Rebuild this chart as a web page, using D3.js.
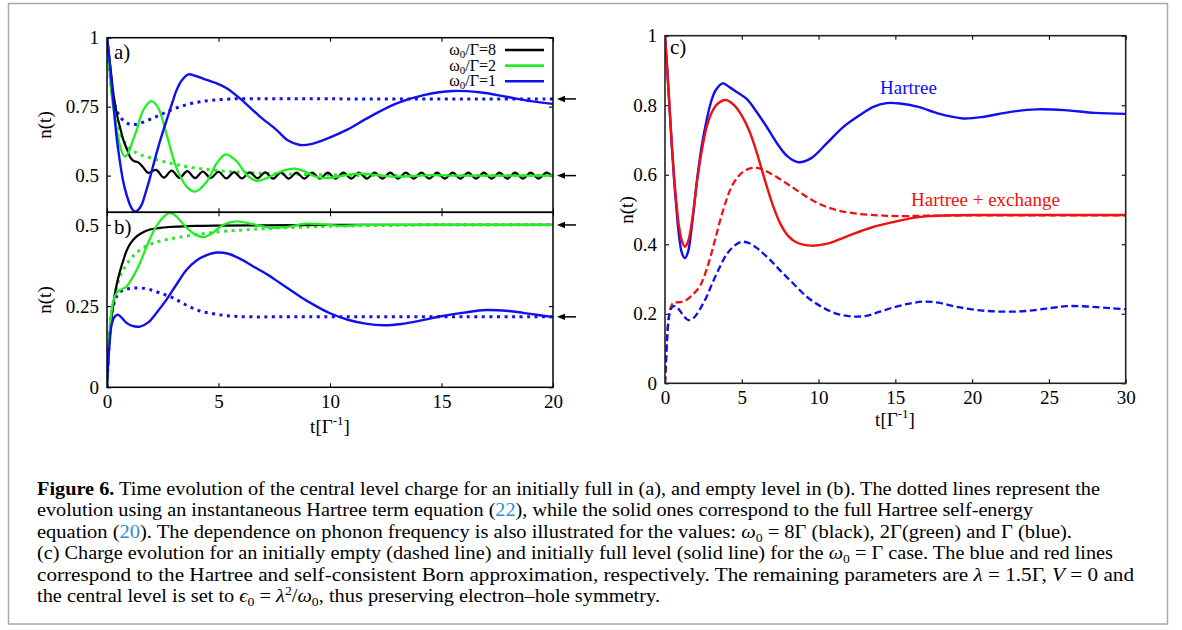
<!DOCTYPE html>
<html><head><meta charset="utf-8">
<script src="https://cdn.jsdelivr.net/npm/d3@7"></script>
<style>
body{margin:0;background:#fff;}
svg text{font-family:"Liberation Serif","Times New Roman",serif;}
</style></head><body>
<svg id="c" width="1182" height="630"></svg>
<script>
// ---------------- DATA ----------------
const abTicksX = [0,5,10,15,20];
const aTicksY = [0.5,0.75,1];
const aTickLabels = ["0.5","0.75","1"];
const bTicksY = [0,0.25,0.5];
const bTickLabels = ["0","0.25","0.5"];
const cTicksX = [0,5,10,15,20,25,30];
const cTicksY = [0,0.2,0.4,0.6,0.8,1];
const cTickLabels = ["0","0.2","0.4","0.6","0.8","1"];
const legendLabels = ["8","2","1"];
const arrowA = [0.778,0.5];
const arrowB = [0.5,0.217];

// panel a (initially full), [t, n]
const a_black = [[0,1],[0.1,0.93],[0.2,0.86],[0.3,0.79],[0.45,0.72],[0.6,0.67],[0.75,0.625],[0.9,0.595],[1.05,0.565],[1.2,0.553],[1.4,0.548],[1.6,0.532],
 [1.85,0.51],[2.2,0.521],[2.55,0.493],[2.9,0.518],[3.25,0.492],[3.6,0.516],[3.95,0.491],[4.3,0.515],[4.65,0.491],[5.0,0.514],[5.35,0.49],[5.7,0.513],
 [6.05,0.49],[6.4,0.512],[6.75,0.49],[7.1,0.512],[7.45,0.489],[7.8,0.512],[8.15,0.489],[8.5,0.511],[8.85,0.489],[9.2,0.511],[9.55,0.489],[9.9,0.511],
 [10.25,0.489],[10.6,0.511],[10.95,0.489],[11.3,0.511],[11.65,0.489],[12.0,0.511],[12.35,0.489],[12.7,0.511],[13.05,0.489],[13.4,0.511],[13.75,0.489],
 [14.1,0.511],[14.45,0.489],[14.8,0.511],[15.15,0.489],[15.5,0.511],[15.85,0.489],[16.2,0.511],[16.55,0.489],[16.9,0.511],[17.25,0.489],[17.6,0.511],
 [17.95,0.489],[18.3,0.511],[18.65,0.489],[19.0,0.511],[19.35,0.489],[19.7,0.511],[20.0,0.495]];
const a_green = [[0,1],[0.1,0.9],[0.2,0.8],[0.35,0.71],[0.5,0.64],[0.65,0.59],[0.81,0.569],[1.0,0.59],[1.15,0.625],[1.33,0.665],[1.63,0.738],[2.0,0.77],
 [2.3,0.745],[2.68,0.647],[3.12,0.527],[3.57,0.46],[3.95,0.442],[4.47,0.478],[4.92,0.545],[5.33,0.577],[5.8,0.553],[6.3,0.5],[6.71,0.481],[7.2,0.492],
 [7.8,0.515],[8.4,0.525],[8.9,0.514],[9.4,0.495],[9.9,0.491],[10.6,0.5],[11.4,0.507],[12.2,0.501],[13.0,0.496],[13.8,0.499],[14.6,0.502],[15.5,0.5],[17,0.5],[18.5,0.5],[20,0.5]];
const a_greenDot = [[0,1],[0.15,0.87],[0.3,0.77],[0.45,0.7],[0.6,0.655],[0.8,0.62],[1.0,0.6],[1.2,0.588],[1.5,0.576],[2.0,0.563],[2.5,0.552],[3.0,0.542],
 [3.6,0.532],[4.5,0.522],[5.6,0.514],[6.5,0.51],[7.9,0.506],[9.5,0.503],[11,0.501],[13,0.5],[16,0.5],[20,0.5]];
const a_blue = [[0,1],[0.1,0.93],[0.2,0.84],[0.3,0.75],[0.43,0.64],[0.58,0.55],[0.73,0.478],[0.88,0.43],[1.03,0.394],[1.15,0.376],[1.26,0.37],[1.4,0.376],
 [1.55,0.394],[1.72,0.435],[1.92,0.49],[2.15,0.56],[2.37,0.623],[2.55,0.67],[2.75,0.72],[2.95,0.77],[3.12,0.81],[3.35,0.845],[3.65,0.867],[3.95,0.862],
 [4.47,0.847],[5.0,0.832],[5.37,0.817],[5.96,0.78],[6.86,0.714],[7.6,0.666],[8.1,0.628],[8.65,0.611],[9.2,0.615],[9.9,0.635],[10.75,0.666],[11.8,0.714],
 [12.99,0.762],[14.2,0.792],[15.5,0.807],[16.7,0.802],[17.9,0.786],[19,0.77],[20,0.76]];
const a_blueDot = [[0,1],[0.1,0.9],[0.2,0.82],[0.3,0.77],[0.45,0.733],[0.6,0.712],[0.8,0.695],[1.0,0.687],[1.2,0.685],[1.5,0.69],[1.9,0.703],[2.3,0.717],
 [2.7,0.732],[3.2,0.748],[3.7,0.76],[4.2,0.768],[4.8,0.774],[5.6,0.778],[6.5,0.779],[7.5,0.779],[9,0.779],[11,0.778],[14,0.778],[17,0.778],[20,0.778]];

// panel b (initially empty)
const b_black = [[0,0],[0.05,0.08],[0.1,0.14],[0.18,0.2],[0.28,0.254],[0.4,0.305],[0.58,0.357],[0.75,0.395],[0.87,0.419],[1.05,0.443],[1.33,0.465],
 [1.6,0.477],[1.92,0.486],[2.3,0.49],[2.67,0.493],[3.2,0.495],[4,0.497],[5,0.498],[7,0.499],[10,0.5],[14,0.5],[20,0.5]];
const b_green = [[0,0],[0.05,0.09],[0.12,0.17],[0.2,0.23],[0.3,0.27],[0.43,0.29],[0.6,0.3],[0.87,0.31],[1.17,0.341],[1.48,0.383],[1.78,0.434],[2.08,0.48],
 [2.3,0.505],[2.53,0.524],[2.8,0.537],[3.05,0.53],[3.3,0.512],[3.6,0.49],[3.95,0.471],[4.32,0.463],[4.7,0.474],[5.2,0.5],[5.8,0.511],[6.5,0.503],
 [7.3,0.492],[8.1,0.494],[8.9,0.504],[9.7,0.502],[10.5,0.497],[11.5,0.5],[13,0.5],[15,0.5],[20,0.5]];
const b_greenDot = [[0,0],[0.05,0.09],[0.12,0.17],[0.2,0.225],[0.3,0.265],[0.43,0.305],[0.58,0.341],[0.8,0.37],[1.03,0.393],[1.3,0.413],[1.63,0.43],
 [2.1,0.445],[2.67,0.455],[3.3,0.463],[4.17,0.472],[5.2,0.48],[6.4,0.486],[7.5,0.49],[8.65,0.493],[10,0.496],[12,0.498],[15,0.5],[20,0.5]];
const b_blue = [[0,0],[0.05,0.07],[0.12,0.14],[0.2,0.19],[0.3,0.213],[0.42,0.222],[0.51,0.223],[0.65,0.215],[0.85,0.2],[1.1,0.19],[1.48,0.187],[1.85,0.2],
 [2.25,0.232],[2.67,0.27],[3.1,0.315],[3.57,0.362],[4.0,0.39],[4.5,0.408],[4.92,0.415],[5.4,0.412],[6.0,0.395],[6.56,0.372],[7.2,0.347],[7.76,0.321],
 [8.65,0.28],[9.3,0.253],[10,0.228],[10.8,0.208],[11.6,0.196],[12.39,0.191],[13.2,0.195],[14.1,0.206],[14.93,0.218],[16,0.23],[17,0.238],[18,0.235],
 [19,0.226],[20,0.216]];
const b_blueDot = [[0,0],[0.05,0.08],[0.12,0.16],[0.2,0.22],[0.3,0.255],[0.43,0.28],[0.6,0.294],[0.85,0.302],[1.1,0.305],[1.48,0.306],[1.9,0.301],
 [2.4,0.29],[2.97,0.275],[3.5,0.255],[4.17,0.235],[4.9,0.225],[5.66,0.219],[6.5,0.217],[7.5,0.217],[9,0.217],[12,0.217],[16,0.217],[20,0.217]];

// panel c (omega0 = Gamma)
const c_blueSolid = [[0,1],[0.15,0.9],[0.3,0.79],[0.45,0.68],[0.6,0.58],[0.75,0.5],[0.9,0.43],[1.1,0.375],[1.3,0.36],[1.5,0.378],[1.7,0.435],[1.9,0.51],
 [2.1,0.59],[2.4,0.685],[2.71,0.757],[3.0,0.81],[3.3,0.843],[3.75,0.863],[4.2,0.852],[4.7,0.837],[5.32,0.818],[5.9,0.785],[6.62,0.738],[7.3,0.69],
 [8.0,0.652],[8.68,0.636],[9.5,0.647],[10.53,0.69],[11.6,0.737],[12.7,0.772],[13.6,0.796],[14.43,0.806],[15.3,0.805],[16.5,0.795],[17.8,0.776],
 [19.4,0.762],[20.8,0.767],[22.5,0.781],[24.2,0.788],[26,0.786],[28,0.778],[30,0.775]];
const c_redSolid = [[0,1],[0.15,0.9],[0.3,0.79],[0.45,0.68],[0.6,0.59],[0.75,0.515],[0.9,0.455],[1.1,0.41],[1.3,0.393],[1.5,0.408],[1.7,0.45],[1.9,0.515],
 [2.1,0.585],[2.4,0.67],[2.7,0.735],[3.0,0.775],[3.4,0.803],[3.97,0.815],[4.5,0.8],[5.0,0.77],[5.5,0.725],[6.0,0.66],[6.5,0.585],[7.0,0.515],
 [7.5,0.46],[8.0,0.425],[8.58,0.405],[9.55,0.396],[10.5,0.401],[11.3,0.413],[12.26,0.43],[13.5,0.449],[14.87,0.464],[16.17,0.476],[17.2,0.481],[18.3,0.483],
 [20,0.484],[22,0.484],[25,0.484],[30,0.484]];
const c_redDash = [[0,0],[0.08,0.08],[0.15,0.14],[0.25,0.19],[0.35,0.215],[0.54,0.232],[0.8,0.233],[1.1,0.234],[1.41,0.24],[1.8,0.255],[2.28,0.28],
 [2.8,0.34],[3.3,0.42],[3.8,0.5],[4.45,0.575],[5.2,0.612],[5.97,0.62],[6.9,0.603],[7.92,0.575],[9.0,0.543],[10.1,0.515],[11.3,0.497],[12.7,0.487],
 [14,0.483],[15.1,0.481],[17,0.482],[20,0.483],[25,0.483],[30,0.483]];
const c_blueDash = [[0,0],[0.08,0.08],[0.15,0.14],[0.25,0.19],[0.4,0.215],[0.55,0.222],[0.76,0.22],[1.0,0.207],[1.25,0.192],[1.52,0.182],[1.9,0.19],
 [2.3,0.215],[2.71,0.249],[3.1,0.29],[3.58,0.335],[4.0,0.37],[4.5,0.395],[4.99,0.407],[5.5,0.403],[6.1,0.385],[6.84,0.355],[7.6,0.32],[8.4,0.285],
 [9.23,0.249],[10.2,0.22],[11.2,0.2],[12.26,0.192],[13.1,0.194],[14,0.206],[15,0.22],[16,0.23],[16.82,0.235],[17.8,0.232],[19,0.22],[20.5,0.21],
 [22.03,0.206],[23.5,0.208],[25,0.216],[26.15,0.222],[27.5,0.221],[29,0.216],[30,0.213]];

const captionLines = [
 [["Figure 6.","b"],[" Time evolution of the central level charge for an initially full in (a), and empty level in (b). The dotted lines represent the"]],
 [["evolution using an instantaneous Hartree term equation ("],["22","l"],["), while the solid ones correspond to the full Hartree self-energy"]],
 [["equation ("],["20","l"],["). The dependence on phonon frequency is also illustrated for the values: "],["ω","i"],["0","sub"],[" = 8Γ (black), 2Γ(green) and Γ (blue)."]],
 [["(c) Charge evolution for an initially empty (dashed line) and initially full level (solid line) for the "],["ω","i"],["0","sub"],[" = Γ case. The blue and red lines"]],
 [["correspond to the Hartree and self-consistent Born approximation, respectively. The remaining parameters are "],["λ","i"],[" = 1.5Γ, "],["V","i"],[" = 0 and"]],
 [["the central level is set to "],["ϵ","i"],["0","sub"],[" = "],["λ","i"],["2","sup"],["/"],["ω","i"],["0","sub"],[", thus preserving electron–hole symmetry."]]
];

// ---------------- DRAW ----------------
const FONT='"Liberation Serif","Times New Roman",serif';
const svg = d3.select("#c");
const BLUE="#1010ee", GREEN="#22ee22", RED="#ee1111", BLACK="#000";

svg.append("rect").attr("x",8.5).attr("y",3.5).attr("width",1159).attr("height",620.5)
  .attr("fill","none").attr("stroke","#a8a8a8").attr("stroke-width",1.5);

const xAB = d3.scaleLinear().domain([0,20]).range([107,553]);
const yA = d3.scaleLinear().domain([0.367,1]).range([212.3,37.7]);
const yB = d3.scaleLinear().domain([0,0.539]).range([387.3,212.3]);
const xC = d3.scaleLinear().domain([0,30]).range([665,1125.7]);
const yC = d3.scaleLinear().domain([0,1]).range([383.3,35.7]);

const defs = svg.append("defs");
function clip(id,x,y){
  const [x0,x1]=x.range(), [y1,y0]=y.range();
  defs.append("clipPath").attr("id",id).append("rect").attr("x",x0).attr("y",y0).attr("width",x1-x0).attr("height",y1-y0);
}
clip("ca",xAB,yA); clip("cb",xAB,yB); clip("cc",xC,yC);

function styleAxis(g,fs){
  g.attr("font-family",null);
  g.select(".domain").remove();
  g.selectAll(".tick line").attr("stroke","#000").attr("stroke-width",1.1);
  g.selectAll("text").attr("font-size",fs).attr("fill","#000").style("font-family",FONT);
}
function frame(x,y,col,w){
  const [x0,x1]=x.range(), [y1,y0]=y.range();
  svg.append("rect").attr("x",x0).attr("y",y0).attr("width",x1-x0).attr("height",y1-y0)
    .attr("fill","none").attr("stroke",col).attr("stroke-width",w);
}
function drawLine(data,x,y,clipId,color,dash,w){
  const line=d3.line().x(d=>x(d[0])).y(d=>y(d[1])).curve(d3.curveCatmullRom.alpha(0.5));
  const p=svg.append("path").datum(data).attr("d",line).attr("fill","none").attr("stroke",color)
    .attr("stroke-width",w).attr("clip-path",`url(#${clipId})`).attr("stroke-linejoin","round");
  if(dash) p.attr("stroke-dasharray",dash);
}

// panel a axes
svg.append("g").attr("transform","translate(107,0)")
  .call(d3.axisLeft(yA).tickValues(aTicksY).tickSize(-4).tickPadding(8).tickFormat((d,i)=>aTickLabels[i])).call(g=>styleAxis(g,19));
svg.append("g").attr("transform","translate(553,0)")
  .call(d3.axisRight(yA).tickValues(aTicksY).tickSize(-4).tickFormat("")).call(g=>styleAxis(g,19));
svg.append("g").attr("transform","translate(0,37.7)")
  .call(d3.axisTop(xAB).tickValues(abTicksX).tickSize(-4).tickFormat("")).call(g=>styleAxis(g,19));
svg.append("g").attr("transform","translate(0,212.3)")
  .call(d3.axisBottom(xAB).tickValues(abTicksX).tickSize(-4).tickFormat("")).call(g=>styleAxis(g,19));
// panel b axes
svg.append("g").attr("transform","translate(107,0)")
  .call(d3.axisLeft(yB).tickValues(bTicksY).tickSize(-4).tickPadding(8).tickFormat((d,i)=>bTickLabels[i])).call(g=>styleAxis(g,19));
svg.append("g").attr("transform","translate(553,0)")
  .call(d3.axisRight(yB).tickValues(bTicksY).tickSize(-4).tickFormat("")).call(g=>styleAxis(g,19));
svg.append("g").attr("transform","translate(0,212.3)")
  .call(d3.axisTop(xAB).tickValues(abTicksX).tickSize(-4).tickFormat("")).call(g=>styleAxis(g,19));
svg.append("g").attr("transform","translate(0,387.3)")
  .call(d3.axisBottom(xAB).tickValues(abTicksX).tickSize(-4).tickPadding(7.5).tickFormat(d3.format("d"))).call(g=>styleAxis(g,19));
// panel c axes
svg.append("g").attr("transform","translate(665,0)")
  .call(d3.axisLeft(yC).tickValues(cTicksY).tickSize(-4).tickPadding(8).tickFormat((d,i)=>cTickLabels[i])).call(g=>styleAxis(g,19));
svg.append("g").attr("transform","translate(1125.7,0)")
  .call(d3.axisRight(yC).tickValues(cTicksY).tickSize(-4).tickFormat("")).call(g=>styleAxis(g,19));
svg.append("g").attr("transform","translate(0,35.7)")
  .call(d3.axisTop(xC).tickValues(cTicksX).tickSize(-4).tickFormat("")).call(g=>styleAxis(g,19));
svg.append("g").attr("transform","translate(0,383.3)")
  .call(d3.axisBottom(xC).tickValues(cTicksX).tickSize(-4).tickPadding(7).tickFormat(d3.format("d"))).call(g=>styleAxis(g,19));

// curves panel a
drawLine(a_greenDot,xAB,yA,"ca",GREEN,"3,4.5",3);
drawLine(a_blueDot,xAB,yA,"ca",BLUE,"3,4.5",3);
drawLine(a_black,xAB,yA,"ca",BLACK,null,2.2);
drawLine(a_green,xAB,yA,"ca",GREEN,null,2.3);
drawLine(a_blue,xAB,yA,"ca",BLUE,null,2.4);
// curves panel b
drawLine(b_greenDot,xAB,yB,"cb",GREEN,"3,4.5",3);
drawLine(b_blueDot,xAB,yB,"cb",BLUE,"3,4.5",3);
drawLine(b_black,xAB,yB,"cb",BLACK,null,2.2);
drawLine(b_green,xAB,yB,"cb",GREEN,null,2.3);
drawLine(b_blue,xAB,yB,"cb",BLUE,null,2.4);
// curves panel c
drawLine(c_redDash,xC,yC,"cc",RED,"7,3.5",2.3);
drawLine(c_blueDash,xC,yC,"cc",BLUE,"7,3.5",2.3);
drawLine(c_blueSolid,xC,yC,"cc",BLUE,null,2.4);
drawLine(c_redSolid,xC,yC,"cc",RED,null,2.4);

frame(xAB,yA,"#000",1.5);
frame(xAB,yB,"#000",1.5);
frame(xC,yC,"#222",1.6);

// panel labels
function txt(x,y,s,fs,col,anchor){
  return svg.append("text").attr("x",x).attr("y",y).attr("font-size",fs).attr("fill",col||"#000")
    .attr("text-anchor",anchor||"start").style("font-family",FONT).text(s);
}
txt(114,59,"a)",21);
txt(114,234,"b)",21);
txt(670,54,"c)",21);
txt(880,94,"Hartree",19,BLUE);
txt(911,206,"Hartree + exchange",19,RED);

// y labels
function ylab(x,y){
  svg.append("text").attr("transform",`translate(${x},${y}) rotate(-90)`).attr("text-anchor","middle")
    .attr("font-size",19).style("font-family",FONT).text("n(t)");
}
ylab(51,125); ylab(51,300); ylab(633,210);
// x labels
function xlab(x,y){
  const t=svg.append("text").attr("x",x).attr("y",y).attr("text-anchor","middle").attr("font-size",19).style("font-family",FONT);
  t.append("tspan").text("t[Γ");
  t.append("tspan").attr("dy",-8).attr("font-size",13).text("-1");
  t.append("tspan").attr("dy",8).text("]");
}
xlab(330,433); xlab(895,426);

// legend
const legColors=[BLACK,GREEN,BLUE];
legendLabels.forEach((l,i)=>{
  const y=50+i*15.6;
  const t=svg.append("text").attr("x",496).attr("y",y+5).attr("text-anchor","end").attr("font-size",16).style("font-family",FONT);
  t.append("tspan").text("ω");
  t.append("tspan").attr("dy",3).attr("font-size",11).text("0");
  t.append("tspan").attr("dy",-3).text("/Γ="+l);
  svg.append("line").attr("x1",505).attr("x2",544).attr("y1",y).attr("y2",y)
    .attr("stroke",legColors[i]).attr("stroke-width",2.6);
});

// arrows
function arrows(vals,y){
  vals.forEach(v=>{
    const yy=y(v);
    svg.append("line").attr("x1",563).attr("x2",576).attr("y1",yy).attr("y2",yy).attr("stroke","#000").attr("stroke-width",1.5);
    svg.append("path").attr("d",`M557,${yy} L565,${yy-3.2} L565,${yy+3.2} Z`).attr("fill","#000");
  });
}
arrows(arrowA,yA); arrows(arrowB,yB);

// caption
const capEnds=[1100,1033,1072,1113,1134,660];
captionLines.forEach((parts,i)=>{
  const t=svg.append("text").attr("x",37).attr("y",495+i*21.4).attr("font-size",18.5).style("font-family",FONT)
    .attr("textLength",capEnds[i]-37).attr("lengthAdjust","spacingAndGlyphs");
  let shift=0;
  parts.forEach(([s,st])=>{
    const sp=t.append("tspan").text(s);
    const target = st==="sub"?4:(st==="sup"?-7:0);
    if(target!==shift){ sp.attr("dy",target-shift); shift=target; }
    if(st==="sub"||st==="sup") sp.attr("font-size",12.5);
    if(st==="b") sp.attr("font-weight","bold");
    if(st==="i") sp.attr("font-style","italic");
    if(st==="l") sp.attr("fill","#2a8fd0");
  });
});
</script>
</body></html>
